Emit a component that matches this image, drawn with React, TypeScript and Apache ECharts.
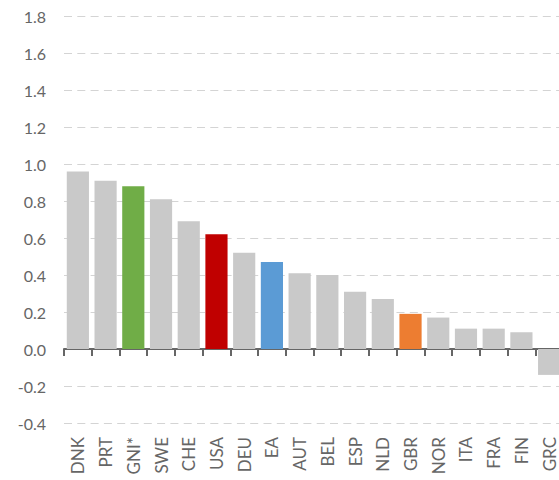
import React, { useEffect, useRef } from "react";
import * as echarts from "echarts";

const categories = ["DNK", "PRT", "GNI*", "SWE", "CHE", "USA", "DEU", "EA", "AUT", "BEL", "ESP", "NLD", "GBR", "NOR", "ITA", "FRA", "FIN", "GRC"];
const values = [0.96, 0.91, 0.88, 0.81, 0.69, 0.62, 0.52, 0.47, 0.41, 0.40, 0.31, 0.27, 0.19, 0.17, 0.11, 0.11, 0.09, -0.14];
const highlight: Record<string, string> = {
  "GNI*": "#70ad47",
  USA: "#c00000",
  EA: "#5b9bd5",
  GBR: "#ed7d31",
};
const baseColor = "#c9c9c9";
const yMin = -0.4;
const yMax = 1.8;
const yStep = 0.2;

export default function App() {
  const ref = useRef<HTMLDivElement>(null);
  useEffect(() => {
    if (!ref.current) return;
    const chart = echarts.init(ref.current, undefined, { renderer: "svg" });
    chart.setOption({
      animation: false,
      grid: { left: 64, top: 16, bottom: 57, width: 499, containLabel: false, outerBoundsMode: "none" },
      xAxis: {
        type: "category",
        data: categories,
        axisLine: { onZero: true, lineStyle: { color: "#666666", width: 2 } },
        axisTick: { show: true, length: 7, lineStyle: { color: "#666666", width: 2 } },
        axisLabel: {
          rotate: 90,
          margin: 14,
          color: "#666666",
          fontFamily: "Lato",
          fontSize: 17,
          interval: 0,
        },
        splitLine: { show: false },
      },
      yAxis: {
        type: "value",
        min: yMin,
        max: yMax,
        interval: yStep,
        axisLine: { show: false },
        axisTick: { show: false },
        axisLabel: {
          margin: 18,
          color: "#666666",
          fontFamily: "Lato",
          fontSize: 16,
          formatter: (v: number) => v.toFixed(1),
        },
        splitLine: {
          show: true,
          lineStyle: { color: "#d4d4d4", type: [8, 5.3], width: 1.2 },
        },
      },
      series: [
        {
          type: "bar",
          data: values.map((v, i) => ({
            value: v,
            itemStyle: { color: highlight[categories[i]] || baseColor },
          })),
          barCategoryGap: "20%",
        },
      ],
    });
    return () => chart.dispose();
  }, []);
  return (
    <div style={{ position: "fixed", left: 0, top: 0, width: 559, height: 480, overflow: "hidden", background: "#fff" }}>
      <div ref={ref} style={{ width: 600, height: 480 }} />
    </div>
  );
}
